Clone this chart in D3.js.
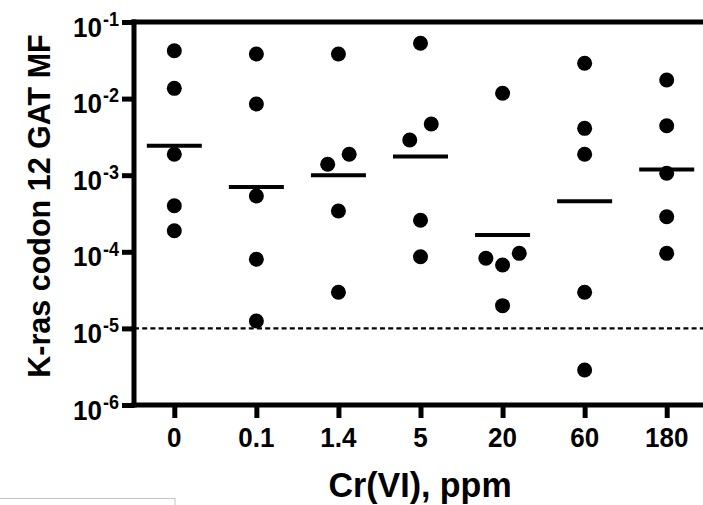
<!DOCTYPE html>
<html>
<head>
<meta charset="utf-8">
<script src="https://cdn.jsdelivr.net/npm/d3@7"></script>
<style>
  html, body { margin: 0; padding: 0; background: #fff; }
  svg { display: block; }
  text { font-family: "Liberation Sans", Arial, sans-serif; font-weight: bold; fill: #000; }
</style>
</head>
<body>
<svg id="chart" width="703" height="505"></svg>
<script>
// ---- data ----
const categories = ["0", "0.1", "1.4", "5", "20", "60", "180"];
const mf_0   = [0.0422, 0.0136, 0.00188, 0.00040, 0.000188];
const mf_0_1 = [0.0382, 0.0085, 0.000535, 0.0000798, 0.0000125];
const mf_1_4 = [0.0382, 0.00139, 0.00188, 0.000341, 0.0000296];
const mf_5   = [0.0527, 0.00466, 0.00288, 0.000258, 0.0000863];
const mf_20  = [0.01172, 0.0000822, 0.0000673, 0.0000955, 0.0000198];
const mf_60  = [0.0289, 0.00409, 0.00188, 0.0000296, 0.00000286];
const mf_180 = [0.0175, 0.00443, 0.00106, 0.000287, 0.0000955];
const groupMeans = [0.00243, 0.000702, 0.00100, 0.00175, 0.000166, 0.000456, 0.00119];
const detectionLimit = 1e-5;
const yTickValues = [1e-1, 1e-2, 1e-3, 1e-4, 1e-5, 1e-6];
const yTickExponents = ["-1", "-2", "-3", "-4", "-5", "-6"];
const yTitle = "K-ras codon 12 GAT MF";
const xTitle = "Cr(VI), ppm";

const groups = [mf_0, mf_0_1, mf_1_4, mf_5, mf_20, mf_60, mf_180];

// ---- layout ----
const svg = d3.select("#chart");
const W = 703, H = 505;
const axisX = 134, topY = 22, bottomY = 405;
const stretch = 1.08;

const x = d3.scalePoint().domain(categories).range([174.3, 666.7]);
const y = d3.scaleLog().domain([1e-1, 1e-6]).range([topY, bottomY]);

// faint frame at bottom-left (artifact in reference)
svg.append("rect")
  .attr("x", -1).attr("y", 498.5).attr("width", 176).attr("height", 20)
  .attr("fill", "none").attr("stroke", "#c4c4c4").attr("stroke-width", 1);

// detection limit dotted line
svg.append("line")
  .attr("x1", axisX).attr("x2", W)
  .attr("y1", y(detectionLimit)).attr("y2", y(detectionLimit))
  .attr("stroke", "#000").attr("stroke-width", 2.4)
  .attr("stroke-dasharray", "5,3.2");

// top frame line
svg.append("line")
  .attr("x1", axisX - 2.5).attr("x2", W)
  .attr("y1", topY).attr("y2", topY)
  .attr("stroke", "#000").attr("stroke-width", 5);

// y axis
const yAxis = d3.axisLeft(y).tickValues(yTickValues).tickSize(12).tickFormat("");
const gy = svg.append("g").attr("transform", `translate(${axisX},0)`).call(yAxis);
gy.select(".domain").remove();
gy.selectAll(".tick line").attr("stroke", "#000").attr("stroke-width", 5);
svg.append("line")
  .attr("x1", axisX).attr("x2", axisX)
  .attr("y1", topY - 2.5).attr("y2", bottomY + 2.5)
  .attr("stroke", "#000").attr("stroke-width", 5);

// y tick labels: 10 with superscript exponent
yTickValues.forEach((v, i) => {
  const t = svg.append("text")
    .attr("transform", `translate(119,${y(v) + 14.5}) scale(1,${stretch})`)
    .attr("text-anchor", "end")
    .style("font-size", "26px");
  t.append("tspan").text("10");
  t.append("tspan").attr("dy", -10).attr("dx", 1).style("font-size", "18px").text(yTickExponents[i]);
});

// x axis
const xAxis = d3.axisBottom(x).tickSize(13).tickFormat("");
const gx = svg.append("g").attr("transform", `translate(0,${bottomY})`).call(xAxis);
gx.select(".domain").remove();
gx.selectAll(".tick line").attr("stroke", "#000").attr("stroke-width", 5);
svg.append("line")
  .attr("x1", axisX - 2.5).attr("x2", W)
  .attr("y1", bottomY).attr("y2", bottomY)
  .attr("stroke", "#000").attr("stroke-width", 5);

svg.selectAll("text.xlab").data(categories).enter().append("text")
  .attr("class", "xlab")
  .attr("transform", d => `translate(${x(d)},447) scale(1,${stretch})`)
  .attr("text-anchor", "middle")
  .style("font-size", "26px")
  .text(d => d);

// axis titles
svg.append("text")
  .attr("transform", `translate(50,206) rotate(-90) scale(1,1.04)`)
  .attr("text-anchor", "middle")
  .style("font-size", "30.5px")
  .text(yTitle);

svg.append("text")
  .attr("transform", `translate(420,497) scale(1,1.05)`)
  .attr("text-anchor", "middle")
  .style("font-size", "34px")
  .text(xTitle);

// points with simple collision spreading
const r = 7.5;
const points = [];
groups.forEach((vals, gi) => {
  const cx = x(categories[gi]);
  const items = vals.map(v => ({ v, py: y(v) })).sort((a, b) => a.py - b.py);
  const clusters = [];
  items.forEach(it => {
    const last = clusters[clusters.length - 1];
    if (last && it.py - last[last.length - 1].py < 20) last.push(it);
    else clusters.push([it]);
  });
  clusters.forEach(cl => {
    const n = cl.length;
    const step = n === 2 ? 21.5 : 16.7;
    const asc = cl.slice().sort((a, b) => a.v - b.v);
    asc.forEach((it, k) => {
      let off;
      if (n % 2 === 1) {
        off = k === 0 ? 0 : (k % 2 === 1 ? -Math.ceil(k / 2) : Math.ceil(k / 2));
      } else {
        const m = Math.floor(k / 2) + 0.5;
        off = k % 2 === 0 ? -m : m;
      }
      points.push({ cx: cx + off * step, cy: it.py });
    });
  });
});

// mean lines
svg.selectAll("line.mean").data(groupMeans).enter().append("line")
  .attr("class", "mean")
  .attr("x1", (d, i) => x(categories[i]) - 27.5)
  .attr("x2", (d, i) => x(categories[i]) + 27.5)
  .attr("y1", d => y(d)).attr("y2", d => y(d))
  .attr("stroke", "#000").attr("stroke-width", 4);

svg.selectAll("circle.pt").data(points).enter().append("circle")
  .attr("class", "pt")
  .attr("cx", d => d.cx).attr("cy", d => d.cy).attr("r", r)
  .attr("fill", "#000");
</script>
</body>
</html>
